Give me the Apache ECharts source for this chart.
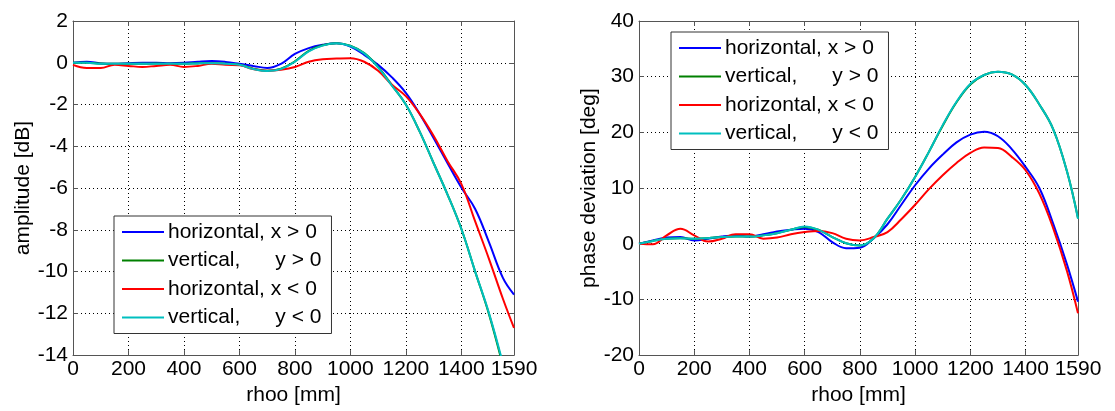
<!DOCTYPE html>
<html><head><meta charset="utf-8">
<script src="https://cdn.jsdelivr.net/npm/echarts@6/dist/echarts.min.js"></script>
<style>html,body{margin:0;padding:0;background:#fff}#c{width:1115px;height:411px}</style>
</head><body><div id="c"></div>
<script>
// shared rho grid [mm]
const rho = [0,50,100,150,200,250,300,350,400,450,500,550,600,650,700,750,800,850,900,950,1000,1050,1100,1150,1200,1250,1300,1350,1400,1450,1500,1550,1590];
const seriesNames = ['horizontal, x > 0','vertical,      y > 0','horizontal, x < 0','vertical,      y < 0'];
const xTicksMax = 1590;

// amplitude [dB]
const ampHorPos = [0,0.05,-0.03,-0.05,-0.02,0,0,-0.02,0,0.05,0.08,0.04,-0.05,-0.15,-0.25,-0.05,0.42,0.7,0.86,0.94,0.78,0.38,-0.1,-0.7,-1.44,-2.45,-3.6,-4.8,-5.97,-7.0,-8.6,-10.3,-11.1];
const ampVerPos = [0,0,-0.04,-0.05,-0.05,-0.05,-0.04,-0.05,-0.05,-0.03,-0.02,-0.05,-0.1,-0.28,-0.38,-0.28,0.07,0.57,0.84,0.94,0.82,0.46,-0.2,-1.08,-2.0,-3.3,-4.8,-6.3,-7.95,-10.0,-12.05,-14.5,-16.6];
const ampHorNeg = [-0.1,-0.25,-0.25,-0.1,-0.15,-0.2,-0.15,-0.1,-0.2,-0.15,-0.05,-0.1,-0.12,-0.3,-0.38,-0.33,-0.2,0.05,0.17,0.2,0.22,0.05,-0.38,-1.05,-1.6,-2.45,-3.5,-4.7,-5.8,-7.6,-9.4,-11.3,-12.7];
const ampVerNeg = [0,0,-0.05,-0.05,-0.05,-0.05,-0.05,-0.05,-0.05,-0.03,-0.02,-0.05,-0.1,-0.3,-0.4,-0.3,0.05,0.55,0.82,0.93,0.8,0.45,-0.22,-1.1,-2.0,-3.3,-4.8,-6.3,-7.95,-10.0,-12.0,-14.4,-16.5];

// phase deviation [deg]
const phHorPos = [0,0.6,1.1,1.2,0.6,0.9,1.3,1.5,1.3,1.7,2.2,2.5,2.7,2.1,0.3,-0.8,-0.7,1.0,3.5,7,10.5,13.5,16,18.2,19.6,20.1,19.3,17,13.8,10,3.6,-3.7,-10.4];
const phVerPos = [0,0.5,0.9,1.0,0.9,1.0,1.2,1.3,1.3,1.5,1.9,2.5,3.0,2.5,1.2,0.1,-0.3,1.0,4.5,8,12,16.5,21.2,25.4,28.6,30.3,30.9,30.4,28.5,25,20.6,13,4.6];
const phHorNeg = [0,-0.1,1.5,2.7,1.5,0.4,0.9,1.7,1.7,0.9,1.1,1.7,2.1,2.3,1.9,0.9,0.6,1.2,2.1,4.4,7,9.8,12.3,14.5,16.3,17.3,17.2,15.6,13.2,9,2.8,-4.9,-12.5];
const phVerNeg = [0,0.5,0.9,1.0,0.9,1.0,1.2,1.3,1.3,1.5,1.9,2.5,3.1,2.5,1.2,0.1,-0.3,1.0,4.5,8,12,16.5,21.3,25.5,28.7,30.3,30.9,30.4,28.5,25,20.6,13,4.5];

const colors = ['#0000ff','#008000','#ff0000','#00bfbf'];
const FONT = 'Liberation Sans, Arial, sans-serif';
const FS = 21;

function pairs(ys){ return rho.map((x,i)=>[x, ys[i]]); }
function plain(v){ return String(v); }

function xAx(grid, show){
  return {
    type:'value', gridIndex:grid, min:0, max:xTicksMax, interval:200,
    position: show ? 'bottom' : 'top',
    name: show ? 'rhoo [mm]' : '', nameLocation:'middle', nameGap:29,
    nameTextStyle:{fontSize:FS, color:'#000', fontFamily:FONT},
    axisLine:{show:true, onZero:false, lineStyle:{color:'#555', width:1}},
    axisTick:{show:true, inside:true, length:5, lineStyle:{color:'#555'}},
    axisLabel:{show:show, fontSize:FS, color:'#000', fontFamily:FONT, margin:4, formatter:plain},
    splitLine:{show:show, lineStyle:{color:'#000', type:[1,3], width:1}}
  };
}
function yAx(grid, show, min, max, interval, name){
  return {
    type:'value', gridIndex:grid, min:min, max:max, interval:interval,
    position: show ? 'left' : 'right',
    name: show ? name : '', nameLocation:'middle', nameGap:36,
    nameTextStyle:{fontSize:FS, color:'#000', fontFamily:FONT},
    axisLine:{show:true, onZero:false, lineStyle:{color:'#555', width:1}},
    axisTick:{show:true, inside:true, length:5, lineStyle:{color:'#555'}},
    axisLabel:{show:show, fontSize:FS, color:'#000', fontFamily:FONT, margin:5, formatter:plain},
    splitLine:{show:show, lineStyle:{color:'#000', type:[1,3], width:1}}
  };
}
function legend(idx, left, top){
  return {
    show:true, orient:'vertical', left:left, top:top,
    data: seriesNames.map((n)=>({name:n+'\u200b'.repeat(idx)})),
    backgroundColor:'#fff', borderColor:'#333', borderWidth:1,
    padding:[5,10,5,8], itemGap:6.5, itemWidth:42, itemHeight:12,
    icon:'path://M0,0 L42,0 L42,2.2 L0,2.2 Z',
    textStyle:{fontSize:FS, color:'#000', fontFamily:FONT, lineHeight:22, padding:[0,0,0,-1]},
    selectedMode:false
  };
}
function ser(name, grid, ys, color){
  return {
    type:'line', name:name, xAxisIndex:grid*2, yAxisIndex:grid*2, data:pairs(ys),
    showSymbol:false, symbol:'none', smooth:0.4, clip:true,
    lineStyle:{color:color, width:2}, itemStyle:{color:color}, animation:false
  };
}

const chart = echarts.init(document.getElementById('c'), null, {renderer:'canvas'});
chart.setOption({
  animation:false,
  backgroundColor:'#fff',
  grid:[
    {left:73, top:21, width:441, height:336},
    {left:639, top:21, width:439, height:336}
  ],
  xAxis:[xAx(0,true), xAx(0,false), xAx(1,true), xAx(1,false)],
  yAxis:[
    yAx(0,true,-14,2,2,'amplitude [dB]'), yAx(0,false,-14,2,2,''),
    yAx(1,true,-20,40,10,'phase deviation [deg]'), yAx(1,false,-20,40,10,'')
  ],
  legend:[legend(0,114,216), legend(1,671,32)],
  series:[
    ser(seriesNames[0], 0, ampHorPos, colors[0]),
    ser(seriesNames[1], 0, ampVerPos, colors[1]),
    ser(seriesNames[2], 0, ampHorNeg, colors[2]),
    ser(seriesNames[3], 0, ampVerNeg, colors[3]),
    ser(seriesNames[0]+'\u200b', 1, phHorPos, colors[0]),
    ser(seriesNames[1]+'\u200b', 1, phVerPos, colors[1]),
    ser(seriesNames[2]+'\u200b', 1, phHorNeg, colors[2]),
    ser(seriesNames[3]+'\u200b', 1, phVerNeg, colors[3])
  ]
});
</script></body></html>
